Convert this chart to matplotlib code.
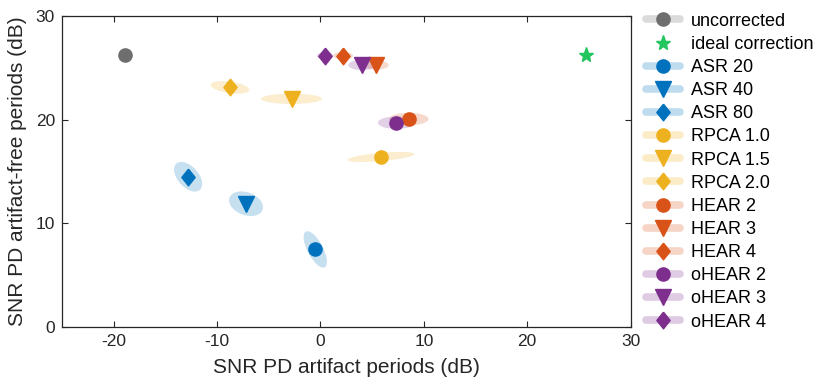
import matplotlib
matplotlib.use("Agg")
import matplotlib.pyplot as plt
from matplotlib.patches import Ellipse
from matplotlib.lines import Line2D
from matplotlib.colors import to_rgb
import numpy as np

plt.rcParams['font.family'] = ['Liberation Sans', 'DejaVu Sans']
plt.rcParams['axes.unicode_minus'] = False

# methods and their mean SNR values (dB)
methods = ["uncorrected", "ASR 20", "ASR 40", "ASR 80",
           "RPCA 1.0", "RPCA 1.5", "RPCA 2.0",
           "HEAR 2", "HEAR 3", "HEAR 4",
           "oHEAR 2", "oHEAR 3", "oHEAR 4"]
snr_artifact = [-18.9, -0.5, -7.2, -12.8, 5.85, -2.8, -8.75, 8.55, 5.4, 2.2, 7.35, 4.0, 0.45]
snr_clean = [26.2, 7.5, 11.9, 14.5, 16.4, 22.0, 23.1, 20.05, 25.25, 26.15, 19.7, 25.25, 26.15]

# spread ellipses (full axis lengths in dB, rotation in degrees)
spread_major = [0.4, 3.9, 3.4, 3.4, 6.5, 5.9, 3.8, 3.8, 2.4, 1.9, 3.6, 2.6, 1.6]
spread_minor = [0.3, 1.5, 2.2, 2.0, 0.8, 1.0, 1.1, 1.2, 0.9, 0.7, 1.2, 1.0, 0.7]
spread_angle = [0, -62, -20, -48, 5, 0, -8, 0, 0, 0, 0, 0, 0]

ideal_artifact = 25.7
ideal_clean = 26.2

# styles
gray = "#6e6e6e"
blue = "#0072BD"
yellow = "#EDB120"
orange = "#D95319"
purple = "#7E2F8E"
green = "#22c55e"
colors = [gray, blue, blue, blue, yellow, yellow, yellow,
          orange, orange, orange, purple, purple, purple]
diamond = [(0, 1), (0.8, 0), (0, -1), (-0.8, 0), (0, 1)]
markers = ["o", "o", "v", diamond, "o", "v", diamond,
           "o", "v", diamond, "o", "v", diamond]
msizes = [9.5, 9.5, 11, 12, 9.5, 11, 12, 9.5, 11, 12, 9.5, 11, 12]


def light(c, a=0.25):
    r, g, b = to_rgb(c)
    return (1 - a + a * r, 1 - a + a * g, 1 - a + a * b)


fig = plt.figure(figsize=(8.19, 3.78), dpi=100)
ax = fig.add_axes([0.0757, 0.134, 0.6943, 0.8245])

for i in range(len(methods)):
    e = Ellipse((snr_artifact[i], snr_clean[i]), spread_major[i], spread_minor[i],
                angle=spread_angle[i], facecolor=colors[i], alpha=0.22,
                edgecolor="none", zorder=2)
    ax.add_patch(e)
    ax.plot(snr_artifact[i], snr_clean[i], marker=markers[i], ms=msizes[i],
            color=colors[i], mec=colors[i], linestyle="none", zorder=3)

ax.plot(ideal_artifact, ideal_clean, marker="*", ms=11, color=green,
        linestyle="none", zorder=3)

ax.set_xlim(-25, 30)
ax.set_ylim(0, 30)
ax.set_xticks([-20, -10, 0, 10, 20, 30])
ax.set_yticks([0, 10, 20, 30])
ax.tick_params(direction="in", top=True, right=True, labelsize=12.5,
               colors="#262626", length=4, width=0.8, pad=5)
for s in ax.spines.values():
    s.set_color("#262626")
    s.set_linewidth(0.9)
ax.set_xlabel("SNR PD artifact periods (dB)", fontsize=15, color="#262626", labelpad=6)
ax.set_ylabel("SNR PD artifact-free periods (dB)", fontsize=15, color="#262626", labelpad=6)

handles = []
labels = []
for i in range(len(methods)):
    handles.append(Line2D([0], [0], color=light(colors[i]), lw=5.5,
                          solid_capstyle="round", marker=markers[i],
                          ms=msizes[i], mfc=colors[i], mec=colors[i]))
    labels.append(methods[i])
handles.insert(1, Line2D([0], [0], color="none", marker="*", ms=11,
                         mfc=green, mec=green))
labels.insert(1, "ideal correction")

ax.legend(handles, labels, loc="upper left", bbox_to_anchor=(1.004, 1.05),
          frameon=False, fontsize=13, handlelength=1.9, handletextpad=0.6,
          labelspacing=0.34, borderaxespad=0.3)

fig.savefig("out.png", dpi=100)
